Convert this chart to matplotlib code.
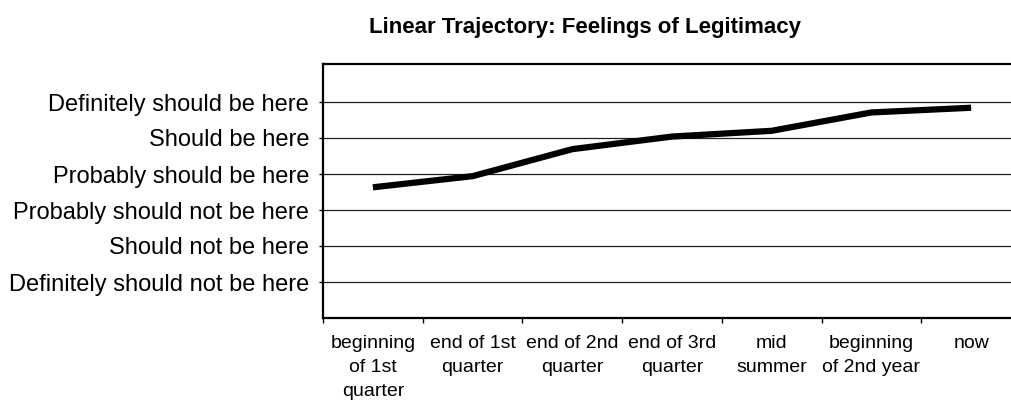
import matplotlib
matplotlib.use("Agg")
import matplotlib.pyplot as plt
from matplotlib.ticker import FixedLocator, NullFormatter

plt.rcParams['font.family'] = ['Liberation Sans', 'DejaVu Sans']

title = "Linear Trajectory: Feelings of Legitimacy"
categories = ["beginning\nof 1st\nquarter", "end of 1st\nquarter", "end of 2nd\nquarter",
              "end of 3rd\nquarter", "mid\nsummer", "beginning\nof 2nd year", "now"]
values = [3.63, 3.94, 4.69, 5.04, 5.20, 5.71, 5.84]
y_levels = [1, 2, 3, 4, 5, 6]
y_labels = ["Definitely should not be here", "Should not be here",
            "Probably should not be here", "Probably should be here",
            "Should be here", "Definitely should be here"]

fig = plt.figure(figsize=(10.11, 4.01), dpi=100)
ax = fig.add_axes([323/1011, 83/401, 698/1011, 254.5/401])

xs = [i + 0.5 for i in range(len(categories))]
ax.plot(xs, values, color='black', lw=4.5, solid_capstyle='butt', zorder=3)

ax.set_xlim(0, len(categories))
ax.set_ylim(0, 254.5/36)

ax.set_yticks(y_levels)
ax.set_yticklabels(y_labels, fontsize=17)
for y in y_levels:
    ax.axhline(y, color='#222222', lw=0.9, zorder=1)

ax.xaxis.set_major_locator(FixedLocator(list(range(len(categories) + 1))))
ax.xaxis.set_major_formatter(NullFormatter())
ax.xaxis.set_minor_locator(FixedLocator(xs))
ax.set_xticklabels(categories, minor=True, fontsize=14, linespacing=1.55)
ax.tick_params(axis='x', which='major', length=3.5, width=1, color='black', direction='out')
ax.tick_params(axis='x', which='minor', length=0, pad=12)
ax.tick_params(axis='y', which='major', length=3, width=1, pad=7, direction='out')

for s in ['left', 'top', 'bottom']:
    ax.spines[s].set_linewidth(1.6)
    ax.spines[s].set_color('black')
ax.spines['right'].set_visible(False)

fig.text(585/1011, 1 - 33/401, title, ha='center', va='baseline',
         fontsize=16, fontweight='bold')

fig.savefig("out.png", dpi=100)
